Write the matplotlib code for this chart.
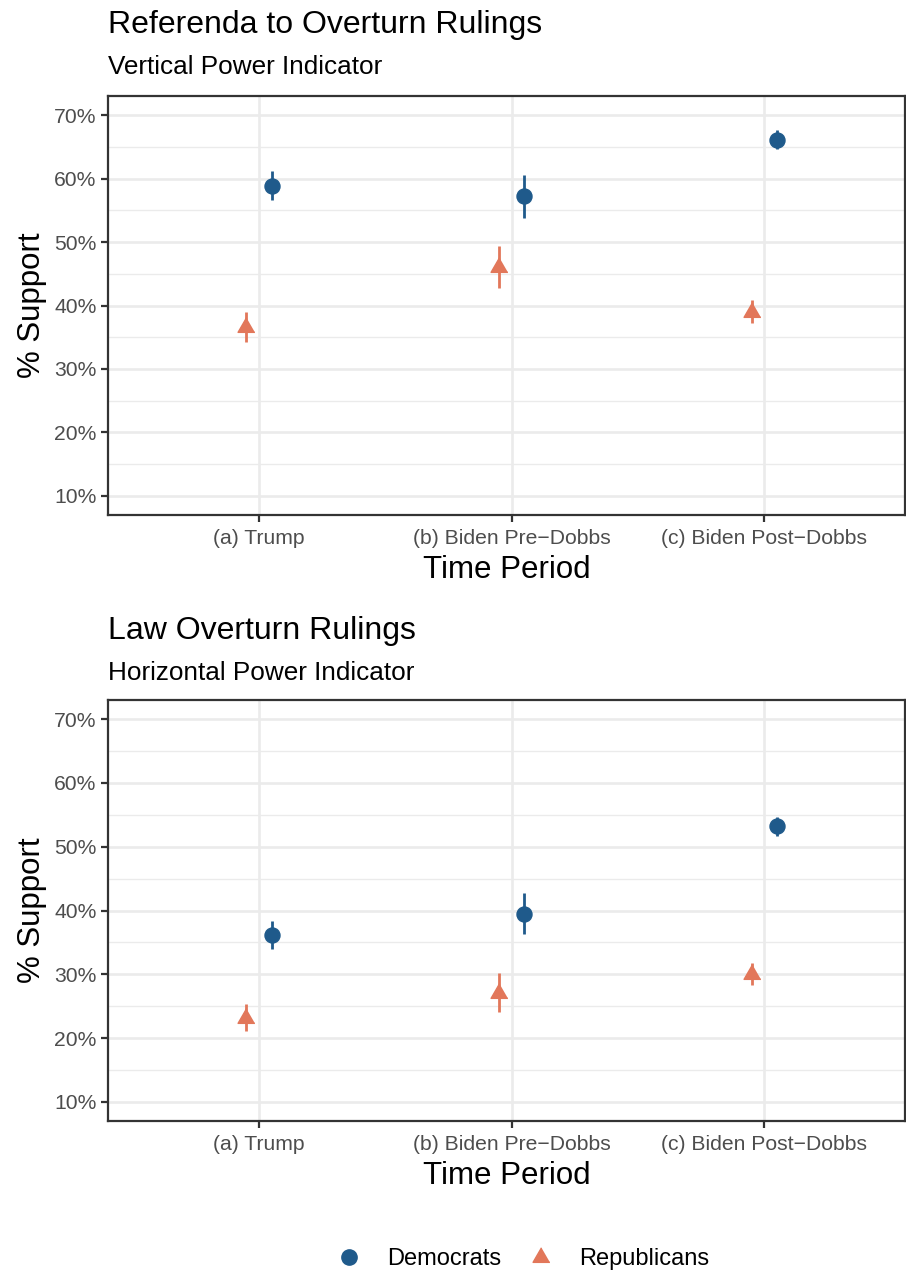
import matplotlib
matplotlib.use("Agg")
import matplotlib.pyplot as plt
from matplotlib.lines import Line2D
from matplotlib.ticker import FixedLocator, FuncFormatter

plt.rcParams['font.family'] = ['Liberation Sans', 'DejaVu Sans']

# data (percent support)
periods = ["(a) Trump", "(b) Biden Pre\u2212Dobbs", "(c) Biden Post\u2212Dobbs"]
parties = ["Democrats", "Republicans"]

# panel 1: referenda to overturn rulings
ref_dem = [58.9, 57.2, 66.1]
ref_dem_err = [2.3, 3.35, 1.5]
ref_rep = [36.6, 46.1, 39.0]
ref_rep_err = [2.35, 3.3, 1.8]

# panel 2: law overturn rulings
law_dem = [36.2, 39.5, 53.2]
law_dem_err = [2.2, 3.2, 1.5]
law_rep = [23.2, 27.1, 30.0]
law_rep_err = [2.15, 3.05, 1.7]

panels = [
    ("Referenda to Overturn Rulings", "Vertical Power Indicator",
     ref_dem, ref_dem_err, ref_rep, ref_rep_err),
    ("Law Overturn Rulings", "Horizontal Power Indicator",
     law_dem, law_dem_err, law_rep, law_rep_err),
]

dem_color = "#1F5A8B"
rep_color = "#E2775A"
grid_color = "#EBEBEB"
tri = [(0, 1), (-0.866, -0.5), (0.866, -0.5)]

W, H = 906, 1276
fig = plt.figure(figsize=(W / 100, H / 100), dpi=100)

# pixel boxes: (top, bottom) of each panel, and title baselines
boxes = [(96, 515, 33, 74), (700, 1121, 639, 680)]
left, right = 108, 905

for (title, subtitle, dem, dem_err, rep, rep_err), (top, bot, ty, sy) in zip(panels, boxes):
    ax = fig.add_axes([left / W, 1 - bot / H, (right - left) / W, (bot - top) / H])
    x = list(range(1, len(periods) + 1))
    xd = [v + 0.05 for v in x]
    xr = [v - 0.05 for v in x]

    ax.errorbar(xd, dem, yerr=dem_err, fmt="none", ecolor=dem_color,
                elinewidth=2.0, capsize=0, zorder=3)
    ax.plot(xd, dem, "o", color=dem_color, markersize=10.8, zorder=4)
    ax.errorbar(xr, rep, yerr=rep_err, fmt="none", ecolor=rep_color,
                elinewidth=2.0, capsize=0, zorder=3)
    ax.plot(xr, rep, linestyle="none", marker=tri, color=rep_color,
            markersize=14, zorder=4)

    ax.set_xlim(0.402, 3.557)
    ax.set_ylim(7, 73)
    ax.set_xticks(x)
    ax.set_xticklabels(periods)
    ax.yaxis.set_major_locator(FixedLocator(range(10, 71, 10)))
    ax.yaxis.set_minor_locator(FixedLocator(range(15, 70, 10)))
    ax.yaxis.set_major_formatter(FuncFormatter(lambda v, p: f"{v:.0f}%"))

    ax.grid(True, which="major", color=grid_color, linewidth=1.9, zorder=0)
    ax.grid(True, which="minor", axis="y", color=grid_color, linewidth=1.0, zorder=0)
    ax.set_axisbelow(True)
    for s in ax.spines.values():
        s.set_color("#333333")
        s.set_linewidth(1.6)

    ax.tick_params(axis="both", which="major", length=4.7, width=1.6,
                   color="#333333", labelcolor="#4D4D4D", labelsize=15.2, pad=3.5)
    ax.tick_params(axis="x", which="major", pad=5.2)
    ax.tick_params(axis="y", which="minor", length=0)

    ax.set_xlabel("Time Period", fontsize=22.5, labelpad=5)
    ax.set_ylabel("% Support", fontsize=22.5, labelpad=5)

    fig.text(left / W, 1 - ty / H, title, fontsize=23, va="baseline", ha="left")
    fig.text(left / W, 1 - sy / H, subtitle, fontsize=18.8, va="baseline", ha="left")

handles = [
    Line2D([], [], linestyle="none", marker="o", color=dem_color, markersize=11),
    Line2D([], [], linestyle="none", marker=tri, color=rep_color, markersize=14),
]
fig.legend(handles, parties, loc="center", bbox_to_anchor=(523 / W, 1 - 1259 / H),
           ncol=2, frameon=False, fontsize=17, handlelength=1.0,
           handletextpad=1.1, columnspacing=1.2)

fig.savefig("out.png", dpi=100)
